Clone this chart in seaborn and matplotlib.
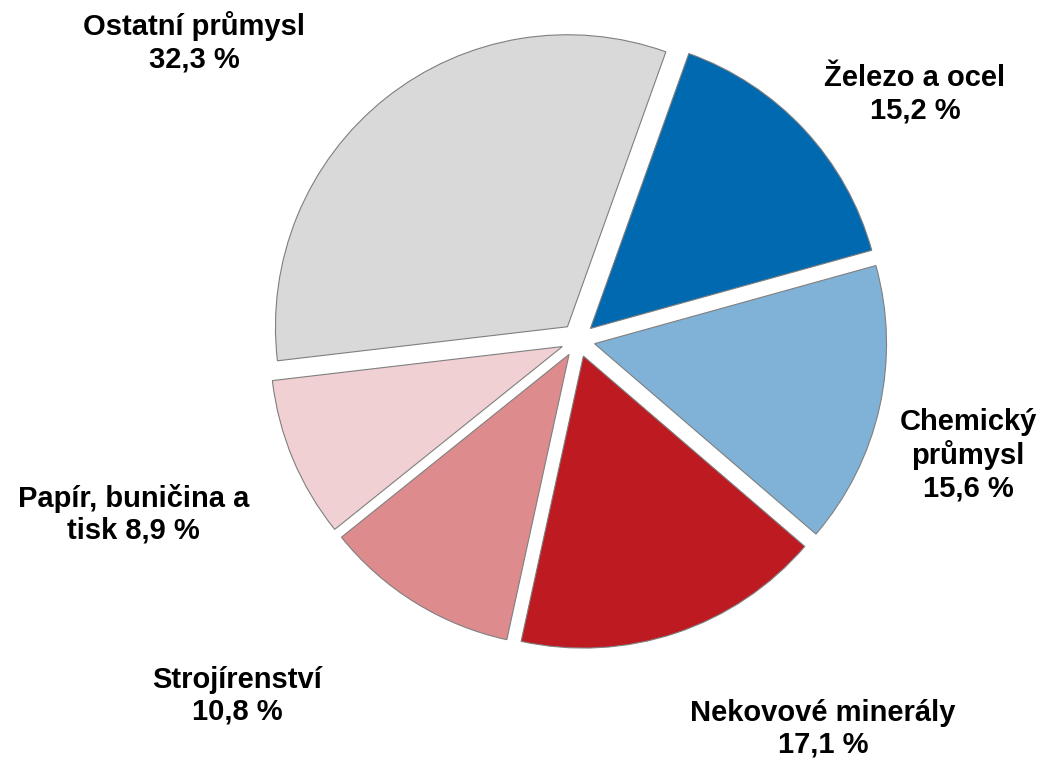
import matplotlib
matplotlib.use("Agg")
import matplotlib.pyplot as plt
import seaborn as sns

# data (clockwise from the top)
sectors = ["Železo a ocel", "Chemický\nprůmysl", "Nekovové minerály",
           "Strojírenství", "Papír, buničina a\ntisk", "Ostatní průmysl"]
shares = [15.2, 15.6, 17.1, 10.8, 8.9, 32.3]
colors = ["#0069AF", "#7FB2D6", "#BD1A22", "#DE8B8E", "#F1D0D3", "#D9D9D9"]
# whether the value goes on a new line or stays on the label's last line
newline = [True, True, True, True, False, True]

# label centres in pie units (radius = 1)
label_pos = [(1.154, 0.841), (1.336, -0.394), (0.839, -1.332),
             (-1.168, -1.218), (-1.521, -0.596), (-1.315, 1.020)]

sns.set_theme(style="white")
plt.rcParams["font.family"] = ["Liberation Sans", "DejaVu Sans"]

fig = plt.figure(figsize=(10.41, 7.6), dpi=100)
ax = fig.add_axes([0, 0, 1, 1])

# pie radius and centre in pixels
R = 292.0
cx, cy = 578.0, 340.0

ax.pie(shares, colors=colors, startangle=70.3, counterclock=False,
       explode=[0.058] * len(shares), radius=1.0,
       wedgeprops=dict(edgecolor="#7F7F7F", linewidth=0.8))

for name, val, nl, (x, y) in zip(sectors, shares, newline, label_pos):
    pct = f"{val:.1f}".replace(".", ",") + " %"
    txt = name + ("\n" if nl else " ") + pct
    ax.text(x, y, txt, ha="center", va="center", fontsize=21,
            fontweight="bold", linespacing=1.18, color="black")

ax.set_aspect("auto")
ax.set_xlim(-cx / R, (1041 - cx) / R)
ax.set_ylim(-(760 - cy) / R, cy / R)
ax.axis("off")
fig.savefig("out.png", dpi=100)
